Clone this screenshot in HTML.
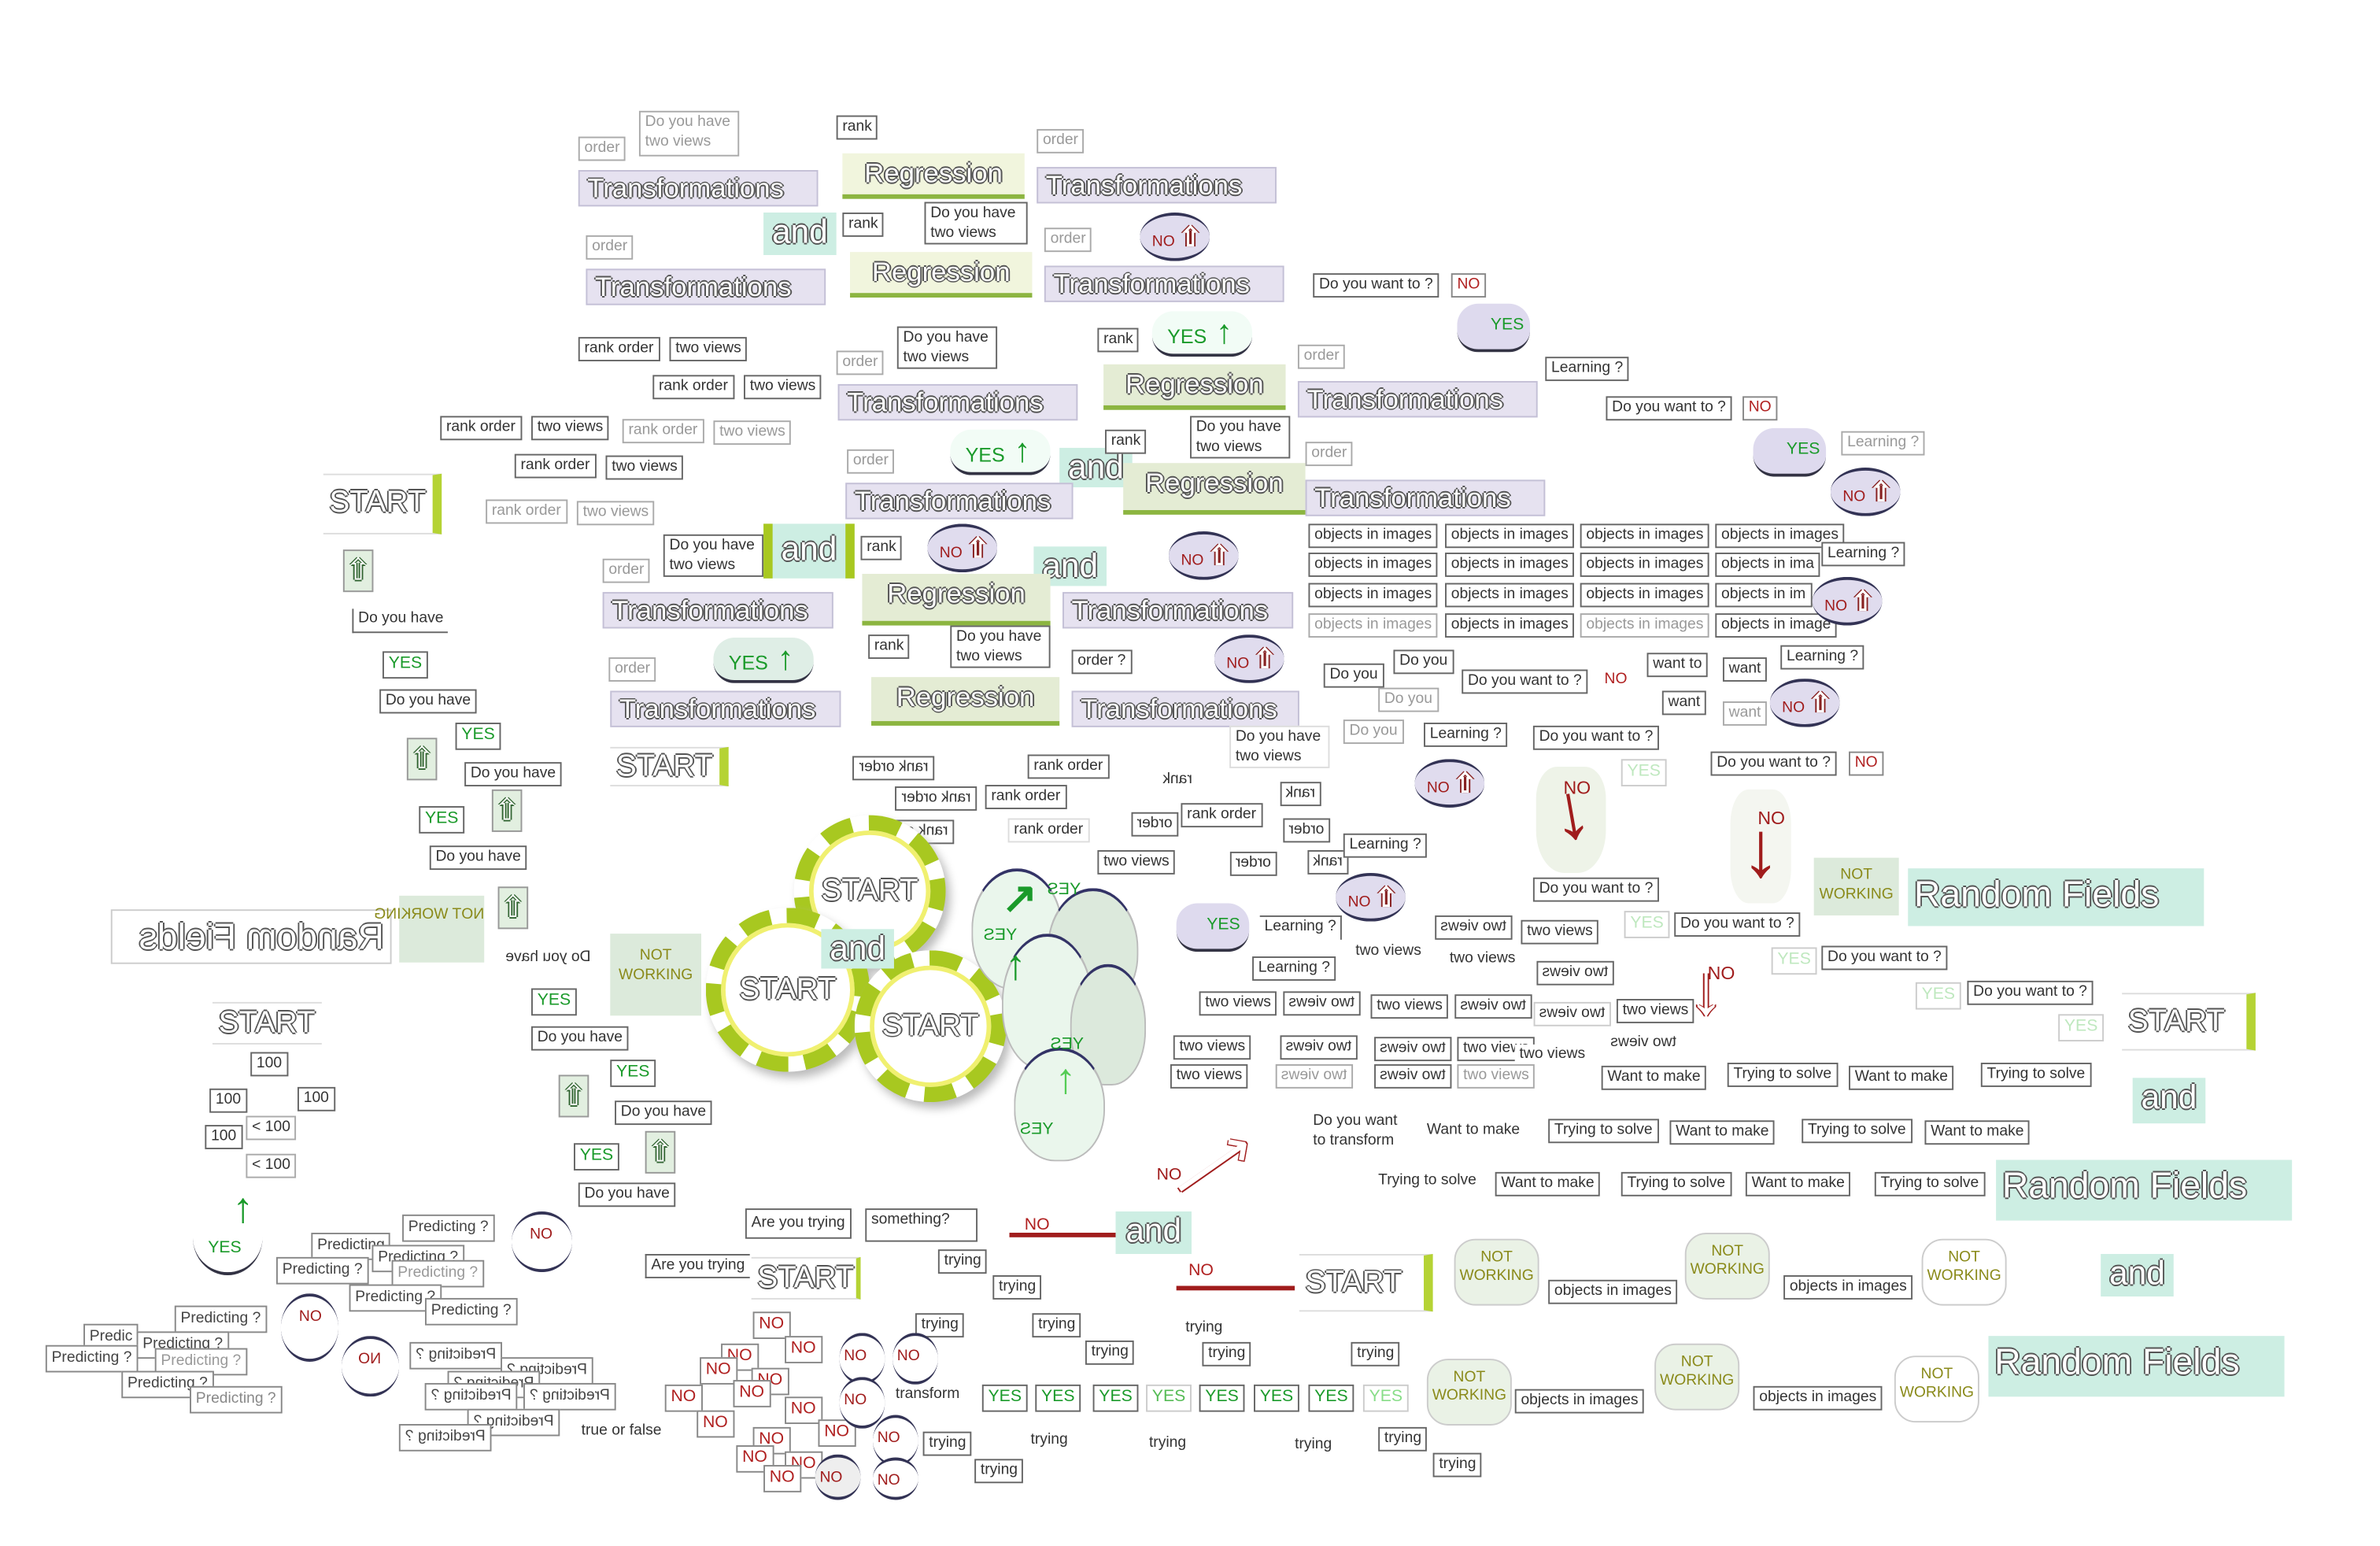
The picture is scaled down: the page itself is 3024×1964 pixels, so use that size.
<!DOCTYPE html>
<html><head><meta charset="utf-8"><style>
body{margin:0;width:3024px;height:1964px;overflow:hidden;background:#fff}
#c{position:absolute;left:0;top:0;width:1568px;height:1018px;transform:scale(1.9286);transform-origin:0 0;font-family:"Liberation Sans",sans-serif}
#c div{position:absolute;box-sizing:border-box;white-space:nowrap}
.b{border:1px solid #666;background:#fff;font-size:10px;padding:0 3px;color:#333;line-height:13px;height:16px}
.g{color:#999;border-color:#aaa}
.m{transform:scaleX(-1)}
.o{color:#fff;text-shadow:-1px 0 #555,1px 0 #555,0 -1px #555,0 1px #555}
.T{background:#e6e2f0;border:1px solid #c4c0d6;width:158px;height:24px;font-size:18px;line-height:22px;padding-left:5px}
.R{background:#f1f5dd;border-bottom:3px solid #8cb540;width:120px;height:30px;font-size:18px;text-align:center;line-height:27px}
.A{background:#cdeee3;width:48px;height:28px;font-size:22px;line-height:25px;text-align:center}
.Y{background:#f2fcf6;border-radius:14px;border-bottom:2px solid #334;color:#1a9a2a;font-size:13px;width:66px;height:30px;line-height:28px;padding-left:10px}
.Y b{color:#1a9a2a;font-size:22px;margin-left:6px}
.P{background:#dedaee;border-radius:14px;border-bottom:2px solid #334;color:#1a9a2a;font-size:11px;width:48px;height:32px;line-height:28px;text-align:right;padding-right:4px}
.N{background:#e0dcee;border-radius:50%;border-top:2px solid #335;border-bottom:2px solid #335;color:#a01c1c;font-size:10px;width:46px;height:32px;line-height:28px;padding-left:8px}
.N b{color:#fff;text-shadow:-1px 0 #822,1px 0 #822;font-size:18px}
.S{font-size:20px;border-right:6px solid #b5d334;background:#fff;border-top:1px solid #ddd;border-bottom:1px solid #ddd;height:34px;line-height:32px;padding:0 4px}
.RF{background:#cdeee3;width:195px;height:38px;font-size:24px;line-height:36px;padding-left:4px}
.nw{background:#dceadb;color:#8a8a1a;font-size:10px;text-align:center;line-height:13px;width:56px;height:40px;padding-top:6px}
.nb{background:#eaf2e6;border-radius:14px;color:#8a8a1a;font-size:10px;text-align:center;line-height:12px;width:56px;height:44px;padding-top:6px;border:1px solid #ccc}
.y{border:1px solid #666;background:#fff;color:#1a9a2a;font-size:11px;padding:0 3px;line-height:15px;height:18px}
.yf{color:#bfe8bf;border-color:#ccc}
.n{border:1px solid #888;background:#fff;color:#b02020;font-size:11px;padding:0 3px;line-height:15px;height:18px}
.ar{border:1px solid #999;background:#e2efe0;width:20px;height:28px;font-size:20px;text-align:center;line-height:26px;color:#fff;text-shadow:-1px 0 #363,1px 0 #363,0 1px #363}
.ring{border-radius:50%;border:10px dashed #a8c820;box-shadow:0 0 0 3px #f0f070 inset,3px 4px 6px #bbb;background:#fff;font-size:20px;text-align:center}
.fan{border-radius:50% 50% 45% 45%;background:#eaf6ec;border:1px solid #bbb;border-top:2px solid #336}
.pr{border:1px solid #888;background:#fff;font-size:10px;padding:0 3px;line-height:15px;height:18px;color:#444}
</style></head><body><div id="c">

<!-- top cluster -->
<div class="b g" style="left:381px;top:90px">order</div>
<div class="b g" style="left:421px;top:73px;height:30px;white-space:normal;width:66px">Do you have two views</div>
<div class="T o" style="left:381px;top:112px">Transformations</div>
<div class="b" style="left:551px;top:76px">rank</div>
<div class="R o" style="left:555px;top:101px">Regression</div>
<div class="b g" style="left:683px;top:85px">order</div>
<div class="T o" style="left:683px;top:110px">Transformations</div>
<div class="A o" style="left:503px;top:140px">and</div>
<div class="b" style="left:555px;top:140px">rank</div>
<div class="b" style="left:609px;top:133px;height:28px;white-space:normal;width:68px">Do you have two views</div>
<div class="N" style="left:751px;top:140px">NO <b>⇧</b></div>
<div class="b g" style="left:386px;top:155px">order</div>
<div class="T o" style="left:386px;top:177px">Transformations</div>
<div class="R o" style="left:560px;top:166px">Regression</div>
<div class="b g" style="left:688px;top:150px">order</div>
<div class="T o" style="left:688px;top:175px">Transformations</div>
<div class="b" style="left:865px;top:180px">Do you want to ?</div>
<div class="n" style="left:956px;top:180px;font-size:10px;height:16px;line-height:13px">NO</div>
<div class="Y" style="left:759px;top:205px">YES<b>↑</b></div>
<div class="P" style="left:960px;top:200px">YES</div>
<div class="b" style="left:1018px;top:235px">Learning ?</div>
<div class="b" style="left:381px;top:222px">rank order</div><div class="b" style="left:441px;top:222px">two views</div>
<div class="b" style="left:430px;top:247px">rank order</div><div class="b" style="left:490px;top:247px">two views</div>
<div class="b g" style="left:551px;top:231px">order</div>
<div class="b" style="left:591px;top:215px;height:28px;white-space:normal;width:66px">Do you have two views</div>
<div class="b" style="left:723px;top:216px">rank</div>
<div class="T o" style="left:552px;top:253px">Transformations</div>
<div class="R" style="left:727px;top:240px;background:#e4ecd4" ><span class="o">Regression</span></div>
<div class="b g" style="left:855px;top:227px">order</div>
<div class="T o" style="left:855px;top:251px">Transformations</div>
<div class="b" style="left:1058px;top:261px">Do you want to ?</div>
<div class="n" style="left:1148px;top:261px;font-size:10px;height:16px;line-height:13px">NO</div>
<div class="b" style="left:290px;top:274px">rank order</div><div class="b" style="left:350px;top:274px">two views</div>
<div class="b g" style="left:410px;top:276px">rank order</div><div class="b g" style="left:470px;top:277px">two views</div>
<div class="b" style="left:339px;top:299px">rank order</div><div class="b" style="left:399px;top:300px">two views</div>
<div class="b g" style="left:320px;top:329px">rank order</div><div class="b g" style="left:380px;top:330px">two views</div>
<div class="S o" style="left:213px;top:312px;height:40px;line-height:36px">START</div>
<div class="b g" style="left:558px;top:296px">order</div>
<div class="Y" style="left:626px;top:283px">YES<b>↑</b></div>
<div class="A o" style="left:698px;top:295px;height:26px">and</div>
<div class="b" style="left:728px;top:283px">rank</div>
<div class="b" style="left:784px;top:274px;height:28px;white-space:normal;width:66px">Do you have two views</div>
<div class="R" style="left:740px;top:305px;background:#e4ecd4;height:34px"><span class="o">Regression</span></div>
<div class="b g" style="left:860px;top:291px">order</div>
<div class="T o" style="left:557px;top:318px;width:150px">Transformations</div>
<div class="T o" style="left:860px;top:316px">Transformations</div>
<div class="P" style="left:1155px;top:282px">YES</div>
<div class="N" style="left:1206px;top:308px">NO <b>⇧</b></div>
<div class="b g" style="left:1213px;top:284px">Learning ?</div>

<!-- objects grid -->
<div class="b" style="left:862px;top:345px">objects in images</div><div class="b" style="left:952px;top:345px">objects in images</div><div class="b" style="left:1041px;top:345px">objects in images</div><div class="b" style="left:1130px;top:345px">objects in images</div>
<div class="b" style="left:862px;top:364px">objects in images</div><div class="b" style="left:952px;top:364px">objects in images</div><div class="b" style="left:1041px;top:364px">objects in images</div><div class="b" style="left:1130px;top:364px">objects in ima</div>
<div class="b" style="left:862px;top:384px">objects in images</div><div class="b" style="left:952px;top:384px">objects in images</div><div class="b" style="left:1041px;top:384px">objects in images</div><div class="b" style="left:1130px;top:384px">objects in im</div>
<div class="b g" style="left:862px;top:404px">objects in images</div><div class="b" style="left:952px;top:404px">objects in images</div><div class="b g" style="left:1041px;top:404px">objects in images</div><div class="b" style="left:1130px;top:404px">objects in image</div>
<div class="b" style="left:1200px;top:357px">Learning ?</div>
<div class="N" style="left:1194px;top:380px">NO <b>⇧</b></div>
<div class="b" style="left:1085px;top:430px">want to</div><div class="b" style="left:1135px;top:433px">want</div><div class="b" style="left:1173px;top:425px">Learning ?</div>

<div class="b" style="left:437px;top:352px;height:28px;white-space:normal;width:66px">Do you have two views</div>
<div class="b g" style="left:397px;top:368px">order</div>
<div class="A o" style="left:503px;top:345px;width:60px;height:36px;line-height:34px;border:6px solid #a8c820;border-width:0 6px">and</div>
<div class="b" style="left:567px;top:353px">rank</div>
<div class="N" style="left:611px;top:345px">NO <b>⇧</b></div>
<div class="A o" style="left:681px;top:360px;height:26px">and</div>
<div class="N" style="left:770px;top:350px">NO <b>⇧</b></div>
<div class="T o" style="left:397px;top:390px;width:152px">Transformations</div>
<div class="R" style="left:568px;top:378px;background:#e4ecd4;height:34px;width:124px"><span class="o">Regression</span></div>
<div class="T o" style="left:700px;top:390px;width:152px">Transformations</div>
<div class="b" style="left:572px;top:418px">rank</div>
<div class="b" style="left:626px;top:412px;height:28px;white-space:normal;width:66px">Do you have two views</div>
<div class="Y" style="left:470px;top:420px;background:#dfeee6">YES<b>↑</b></div>
<div class="b g" style="left:401px;top:433px">order</div>
<div class="N" style="left:800px;top:418px">NO <b>⇧</b></div>
<div class="b" style="left:706px;top:428px">order ?</div>
<div class="T o" style="left:402px;top:455px;width:152px">Transformations</div>
<div class="R" style="left:574px;top:446px;background:#e4ecd4;height:32px;width:124px"><span class="o">Regression</span></div>
<div class="T o" style="left:706px;top:455px;width:150px">Transformations</div>
<div class="b" style="left:872px;top:437px">Do you</div><div class="b" style="left:918px;top:428px">Do you</div>
<div class="b" style="left:963px;top:441px">Do you want to ?</div>
<div class="n" style="left:1054px;top:441px;font-size:10px;height:16px;line-height:13px;border:none">NO</div>
<div class="b g" style="left:908px;top:453px">Do you</div>
<div class="b" style="left:1095px;top:455px">want</div><div class="b g" style="left:1135px;top:462px">want</div>
<div class="N" style="left:1166px;top:447px">NO <b>⇧</b></div>
<div class="b g" style="left:885px;top:474px">Do you</div>
<div class="b" style="left:938px;top:476px">Learning ?</div>
<div class="b" style="left:1010px;top:478px">Do you want to ?</div>
<div class="y yf" style="left:1068px;top:500px">YES</div>
<div class="b" style="left:1127px;top:495px">Do you want to ?</div>
<div class="n" style="left:1218px;top:495px;font-size:10px;height:16px;line-height:13px">NO</div>
<div class="N" style="left:932px;top:500px">NO <b>⇧</b></div>
<div class="b" style="left:810px;top:478px;height:28px;white-space:normal;width:66px;border-color:#ddd">Do you have two views</div>
<div class="S o" style="left:402px;top:492px;height:26px;line-height:24px">START</div>

<!-- mirrored rank order -->
<div class="b m" style="left:562px;top:498px">rank order</div>
<div class="b m" style="left:590px;top:518px">rank order</div>
<div class="b m" style="left:575px;top:540px">rank order</div>
<div class="b" style="left:677px;top:497px">rank order</div>
<div class="b" style="left:649px;top:517px">rank order</div>
<div class="b" style="left:664px;top:539px;border-color:#ddd">rank order</div>
<div class="b" style="left:723px;top:560px">two views</div>
<div class="b m" style="left:745px;top:535px">order</div>
<div class="b m" style="left:763px;top:507px;border:none">rank</div>
<div class="b" style="left:778px;top:529px">rank order</div>
<div class="b m" style="left:810px;top:561px">order</div>
<div class="b m" style="left:845px;top:539px">order</div>
<div class="b m" style="left:843px;top:515px">rank</div>
<div class="b m" style="left:861px;top:560px">rank</div>
<div class="b" style="left:885px;top:549px">Learning ?</div>
<div class="N" style="left:880px;top:575px">NO <b>⇧</b></div>

<!-- left column -->
<div class="ar" style="left:226px;top:362px">⇧</div>
<div class="b" style="left:232px;top:401px;border-top:none;border-right:none">Do you have</div>
<div class="y" style="left:252px;top:429px">YES</div>
<div class="b" style="left:250px;top:454px">Do you have</div>
<div class="y" style="left:300px;top:476px">YES</div>
<div class="ar" style="left:268px;top:486px">⇧</div>
<div class="b" style="left:306px;top:502px">Do you have</div>
<div class="y" style="left:276px;top:531px">YES</div>
<div class="ar" style="left:324px;top:520px">⇧</div>
<div class="b" style="left:283px;top:557px">Do you have</div>
<div class="ar" style="left:328px;top:584px">⇧</div>
<div class="RF o m" style="left:73px;top:599px;height:36px;width:185px;background:#fff;border:1px solid #ccc">Random Fields</div>
<div class="nw m" style="left:263px;top:590px;height:44px">NOT WORKING</div>
<div class="b m" style="left:330px;top:624px;border:none">Do you have</div>
<div class="nw" style="left:402px;top:615px;width:60px;height:54px;padding-top:8px">NOT<br>WORKING</div>
<div class="y" style="left:350px;top:651px">YES</div>
<div class="b" style="left:350px;top:676px">Do you have</div>
<div class="ar" style="left:368px;top:708px">⇧</div>
<div class="y" style="left:402px;top:698px">YES</div>
<div class="b" style="left:405px;top:725px">Do you have</div>
<div class="y" style="left:378px;top:753px">YES</div>
<div class="ar" style="left:425px;top:745px">⇧</div>
<div class="b" style="left:381px;top:779px">Do you have</div>
<div class="S o" style="left:140px;top:660px;height:28px;line-height:26px;border-right:none">START</div>
<div class="b" style="left:165px;top:693px">100</div>
<div class="b" style="left:138px;top:717px">100</div>
<div class="b" style="left:196px;top:716px">100</div>
<div class="b" style="left:135px;top:741px">100</div>
<div class="b g" style="left:162px;top:735px;color:#333">&lt; 100</div>
<div class="b g" style="left:162px;top:760px;color:#333">&lt; 100</div>

<!-- start circles -->
<div class="ring o" style="left:523px;top:537px;width:100px;height:100px;line-height:80px">START</div>
<div class="ring o" style="left:465px;top:598px;width:108px;height:108px;line-height:88px">START</div>
<div class="ring o" style="left:563px;top:626px;width:100px;height:100px;line-height:80px">START</div>
<div class="A o" style="left:541px;top:612px;height:26px">and</div>

<!-- fan -->
<div class="fan" style="left:640px;top:572px;width:60px;height:80px"></div>
<div class="fan" style="left:690px;top:585px;width:60px;height:80px;background:#dce9dc"></div>
<div class="fan" style="left:660px;top:615px;width:60px;height:90px"></div>
<div class="fan" style="left:705px;top:635px;width:50px;height:80px;background:#dce9dc"></div>
<div class="fan" style="left:668px;top:690px;width:60px;height:75px"></div>
<div style="left:660px;top:575px;font-size:28px;color:#1a9a2a;font-weight:bold">↗</div>
<div style="left:662px;top:620px;font-size:28px;color:#1a9a2a;font-weight:bold">↑</div>
<div style="left:695px;top:695px;font-size:28px;color:#5c5;font-weight:bold">↑</div>
<div style="left:690px;top:580px;font-size:11px;color:#1a9a2a" class="m">YES</div>
<div style="left:648px;top:610px;font-size:11px;color:#1a9a2a" class="m">YES</div>
<div style="left:692px;top:682px;font-size:11px;color:#1a9a2a" class="m">YES</div>
<div style="left:672px;top:738px;font-size:11px;color:#1a9a2a" class="m">YES</div>

<div class="P" style="left:775px;top:595px;width:48px;text-align:left;padding-left:20px">YES</div>
<div class="b" style="left:830px;top:603px;border-left:none;border-bottom:none">Learning ?</div>
<div class="b" style="left:825px;top:630px">Learning ?</div>
<!-- two views -->
<div class="b" style="left:890px;top:620px;border:none">two views</div>
<div class="b m" style="left:945px;top:603px">two views</div>
<div class="b" style="left:1002px;top:606px">two views</div>
<div class="b" style="left:952px;top:625px;border:none">two views</div>
<div class="b m" style="left:1012px;top:633px">two views</div>
<div class="b" style="left:790px;top:653px">two views</div>
<div class="b m" style="left:845px;top:653px">two views</div>
<div class="b" style="left:903px;top:655px">two views</div>
<div class="b m" style="left:958px;top:655px">two views</div>
<div class="b m" style="left:1010px;top:660px;border-color:#ccc">two views</div>
<div class="b" style="left:1065px;top:658px">two views</div>
<div class="b" style="left:773px;top:682px">two views</div>
<div class="b m" style="left:843px;top:682px">two views</div>
<div class="b m" style="left:905px;top:683px">two views</div>
<div class="b" style="left:960px;top:683px">two views</div>
<div class="b" style="left:998px;top:688px;border:none">two views</div>
<div class="b m" style="left:1058px;top:680px;border:none">two views</div>
<div class="b" style="left:771px;top:701px">two views</div>
<div class="b m g" style="left:840px;top:701px">two views</div>
<div class="b m" style="left:905px;top:701px">two views</div>
<div class="b g" style="left:960px;top:701px">two views</div>

<!-- red arrows -->
<div style="left:1012px;top:505px;width:46px;height:70px;background:#eef3e8;border-radius:30% 30% 40% 40%"></div>
<div style="left:1022px;top:505px;font-size:52px;color:#a01c1c;transform:rotate(-10deg)">↓</div>
<div style="left:1030px;top:512px;font-size:12px;color:#a01c1c">NO</div>
<div style="left:1140px;top:520px;width:40px;height:75px;background:#f4f6f0;border-radius:30%"></div>
<div style="left:1147px;top:530px;font-size:52px;color:#a01c1c">↓</div>
<div style="left:1158px;top:532px;font-size:12px;color:#a01c1c">NO</div>
<div style="left:1112px;top:625px;font-size:48px;color:#fff;text-shadow:-1px 0 #a01c1c,1px 0 #a01c1c">↓</div>
<div style="left:1125px;top:634px;font-size:12px;color:#a01c1c">NO</div>
<div class="b" style="left:1010px;top:578px">Do you want to ?</div>
<div class="y yf" style="left:1070px;top:600px">YES</div>
<div class="b" style="left:1103px;top:601px">Do you want to ?</div>
<div class="y yf" style="left:1167px;top:624px">YES</div>
<div class="b" style="left:1200px;top:623px">Do you want to ?</div>
<div class="y yf" style="left:1262px;top:647px">YES</div>
<div class="b" style="left:1296px;top:646px">Do you want to ?</div>
<div class="y yf" style="left:1356px;top:668px">YES</div>
<div class="nw" style="left:1195px;top:565px;height:38px;padding-top:5px">NOT<br>WORKING</div>
<div class="RF o" style="left:1257px;top:572px">Random Fields</div>
<div class="S o" style="left:1398px;top:654px;height:38px;line-height:36px;width:88px">START</div>
<div class="b" style="left:1055px;top:702px">Want to make</div>
<div class="b" style="left:1138px;top:700px">Trying to solve</div>
<div class="b" style="left:1218px;top:702px">Want to make</div>
<div class="b" style="left:1305px;top:700px">Trying to solve</div>
<div class="A o" style="left:1405px;top:710px;height:30px">and</div>
<div class="b" style="left:862px;top:732px;height:26px;white-space:normal;width:66px;border:none">Do you want to transform</div>
<div class="b" style="left:937px;top:738px;border:none">Want to make</div>
<div class="b" style="left:1020px;top:737px">Trying to solve</div>
<div class="b" style="left:1100px;top:738px">Want to make</div>
<div class="b" style="left:1187px;top:737px">Trying to solve</div>
<div class="b" style="left:1268px;top:738px">Want to make</div>
<div class="b" style="left:905px;top:771px;border:none">Trying to solve</div>
<div class="b" style="left:985px;top:772px">Want to make</div>
<div class="b" style="left:1068px;top:772px">Trying to solve</div>
<div class="b" style="left:1150px;top:772px">Want to make</div>
<div class="b" style="left:1235px;top:772px">Trying to solve</div>
<div class="RF o" style="left:1315px;top:764px;height:40px">Random Fields</div>
<div class="A o" style="left:1384px;top:826px">and</div>
<div class="RF o" style="left:1310px;top:880px;height:40px">Random Fields</div>
<div style="left:770px;top:745px;font-size:40px;color:#fff;text-shadow:-1px 0 #a01c1c,1px 0 #a01c1c,0 1px #a01c1c;transform:rotate(-35deg)">⟶</div>
<div style="left:762px;top:768px;font-size:11px;color:#a01c1c">NO</div>

<!-- NOT WORKING row -->
<div class="nb" style="left:958px;top:816px">NOT<br>WORKING</div>
<div class="b" style="left:1020px;top:843px">objects in images</div>
<div class="nb" style="left:1110px;top:812px">NOT<br>WORKING</div>
<div class="b" style="left:1175px;top:840px">objects in images</div>
<div class="nb" style="left:1266px;top:816px;background:#fff">NOT<br>WORKING</div>
<div class="nb" style="left:940px;top:895px">NOT<br>WORKING</div>
<div class="b" style="left:998px;top:915px">objects in images</div>
<div class="nb" style="left:1090px;top:885px">NOT<br>WORKING</div>
<div class="b" style="left:1155px;top:913px">objects in images</div>
<div class="nb" style="left:1248px;top:893px;background:#fff">NOT<br>WORKING</div>
<div class="S o" style="left:856px;top:826px;height:38px;line-height:36px;width:88px">START</div>

<!-- bottom middle -->
<div class="b" style="left:491px;top:796px;height:20px;line-height:17px">Are you trying</div>
<div class="b" style="left:570px;top:796px;height:22px;width:74px">something?</div>
<div class="n" style="left:672px;top:800px;border:none">NO</div>
<div style="left:665px;top:812px;width:70px;height:3px;background:#a01c1c"></div>
<div class="A o" style="left:735px;top:798px;width:50px">and</div>
<div class="b" style="left:618px;top:823px">trying</div>
<div class="b" style="left:425px;top:826px;border-right:none">Are you trying</div>
<div class="S o" style="left:495px;top:828px;height:28px;line-height:26px;width:72px;border-right:3px solid #b5d334">START</div>
<div class="n" style="left:780px;top:830px;border:none">NO</div>
<div style="left:775px;top:847px;width:78px;height:3px;background:#a01c1c"></div>
<div class="b" style="left:654px;top:840px">trying</div>
<div class="b" style="left:680px;top:865px">trying</div>
<div class="b" style="left:715px;top:883px">trying</div>
<div class="b" style="left:778px;top:868px;border:none">trying</div>
<div class="b" style="left:792px;top:884px">trying</div>
<div class="b" style="left:890px;top:884px">trying</div>
<div class="b" style="left:603px;top:865px">trying</div>
<div class="b" style="left:608px;top:943px">trying</div>
<div class="b" style="left:676px;top:942px;border:none">trying</div>
<div class="b" style="left:754px;top:944px;border:none">trying</div>
<div class="b" style="left:850px;top:945px;border:none">trying</div>
<div class="b" style="left:908px;top:940px">trying</div>
<div class="b" style="left:642px;top:961px">trying</div>
<div class="b" style="left:944px;top:957px">trying</div>
<div class="b" style="left:587px;top:912px;border:none">transform</div>
<div class="y" style="left:647px;top:912px">YES</div><div class="y" style="left:682px;top:912px">YES</div><div class="y" style="left:720px;top:912px">YES</div><div class="y yf" style="left:755px;top:912px;color:#5b5">YES</div><div class="y" style="left:790px;top:912px">YES</div><div class="y" style="left:826px;top:912px">YES</div><div class="y" style="left:862px;top:912px">YES</div><div class="y yf" style="left:898px;top:912px;color:#8d8">YES</div>

<!-- NO cluster -->
<div class="n" style="left:496px;top:864px">NO</div>
<div class="n" style="left:517px;top:880px">NO</div>
<div class="n" style="left:475px;top:885px">NO</div>
<div class="n" style="left:461px;top:894px">NO</div>
<div class="n" style="left:495px;top:901px">NO</div>
<div class="n" style="left:438px;top:912px">NO</div>
<div class="n" style="left:483px;top:909px">NO</div>
<div class="n" style="left:517px;top:920px">NO</div>
<div class="n" style="left:459px;top:929px">NO</div>
<div class="n" style="left:539px;top:935px">NO</div>
<div class="n" style="left:496px;top:940px">NO</div>
<div class="n" style="left:485px;top:952px">NO</div>
<div class="n" style="left:517px;top:956px">NO</div>
<div class="n" style="left:503px;top:965px">NO</div>
<div class="N" style="left:553px;top:878px;width:30px;height:34px;background:#fff;padding-left:3px">NO</div>
<div class="N" style="left:588px;top:878px;width:30px;height:34px;background:#fff;padding-left:3px">NO</div>
<div class="N" style="left:553px;top:907px;width:30px;height:34px;background:#fff;padding-left:3px">NO</div>
<div class="N" style="left:575px;top:932px;width:30px;height:34px;background:#fff;padding-left:3px">NO</div>
<div class="N" style="left:537px;top:958px;width:30px;height:30px;background:#eee;padding-left:3px">NO</div>
<div class="N" style="left:575px;top:960px;width:30px;height:28px;background:#fff;padding-left:3px">NO</div>

<!-- predicting cluster -->
<div class="P" style="left:127px;top:790px;width:46px;height:50px;background:#fff;text-align:left;padding:18px 0 0 10px;border-radius:50% 40% 50% 50%">YES</div>
<div style="left:153px;top:780px;font-size:28px;color:#1a9a2a;font-weight:bold">↑</div>
<div class="pr" style="left:265px;top:800px">Predicting ?</div>
<div class="pr" style="left:205px;top:812px">Predicting</div>
<div class="pr" style="left:245px;top:820px">Predicting ?</div>
<div class="pr" style="left:182px;top:828px">Predicting ?</div>
<div class="pr" style="left:258px;top:830px;color:#999">Predicting ?</div>
<div class="pr" style="left:230px;top:846px">Predicting ?</div>
<div class="pr" style="left:280px;top:855px">Predicting ?</div>
<div class="N" style="left:337px;top:798px;width:40px;height:40px;background:#fff;padding-left:12px">NO</div>
<div class="pr" style="left:115px;top:860px">Predicting ?</div>
<div class="pr" style="left:55px;top:872px">Predic</div>
<div class="pr" style="left:90px;top:877px">Predicting ?</div>
<div class="pr" style="left:30px;top:886px">Predicting ?</div>
<div class="pr" style="left:102px;top:888px;color:#999">Predicting ?</div>
<div class="pr" style="left:80px;top:903px">Predicting ?</div>
<div class="pr" style="left:125px;top:913px;color:#888">Predicting ?</div>
<div class="N" style="left:185px;top:852px;width:38px;height:45px;background:#fff;padding-left:12px">NO</div>
<div class="N m" style="left:225px;top:880px;width:38px;height:40px;background:#fff;padding-left:12px">NO</div>
<div class="pr m" style="left:270px;top:884px">Predicting ?</div>
<div class="pr m" style="left:330px;top:894px">Predicting ?</div>
<div class="pr m" style="left:295px;top:903px">Predicting ?</div>
<div class="pr m" style="left:280px;top:911px">Predicting ?</div>
<div class="pr m" style="left:345px;top:911px">Predicting ?</div>
<div class="pr m" style="left:308px;top:928px">Predicting ?</div>
<div class="pr m g" style="left:263px;top:938px">Predicting ?</div>
<div class="b" style="left:380px;top:936px;border:none">true or false</div>

</div></body></html>
